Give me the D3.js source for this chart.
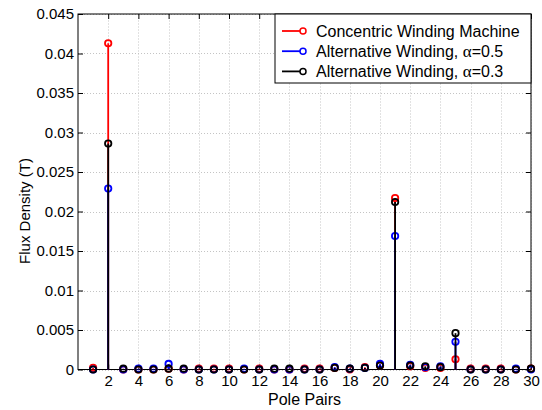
<!DOCTYPE html>
<html>
<head>
<meta charset="utf-8">
<script src="https://cdn.jsdelivr.net/npm/d3@7"></script>
<style>
  html, body { margin: 0; padding: 0; background: #fff; }
  svg { display: block; font-family: "Liberation Sans", Arial, sans-serif; }
</style>
</head>
<body>
<svg id="chart" width="542" height="410"></svg>
<script>
// Harmonic order (pole pairs)
const polePairs = d3.range(1, 31);

// Flux density harmonics (T)
const concentric = [
  0.0002, 0.0413, 0, 0, 0, 0.0001, 0, 0.0001, 0.0001, 0.0001,
  0, 0.0001, 0, 0, 0.0001, 0.0001, 0.0002, 0, 0.0003, 0.0005,
  0.0217, 0.0004, 0.0002, 0.0002, 0.0013, 0.0001, 0.0001, 0.0001, 0, 0.0001
];
const altHalf = [
  0, 0.0229, 0, 0.0001, 0.0001, 0.0007, 0, 0, 0, 0,
  0.0001, 0, 0, 0, 0, 0, 0.0003, 0.0001, 0.0002, 0.0007,
  0.0169, 0.0006, 0.0003, 0.0004, 0.0035, 0, 0, 0, 0.0001, 0
];
const altThird = [
  0, 0.0286, 0.0001, 0, 0, 0.0001, 0.0001, 0, 0, 0,
  0, 0, 0.0001, 0.0001, 0, 0, 0.0002, 0.0001, 0.0002, 0.0005,
  0.0212, 0.0005, 0.0004, 0.0003, 0.0046, 0, 0, 0, 0, 0.0001
];

const seriesNames = ["Concentric Winding Machine", "Alternative Winding, ", "Alternative Winding, "];
const alphaLabels = [null, "=0.5", "=0.3"];
const seriesColors = ["#ff0000", "#0000ff", "#000000"];

const xTicks = d3.range(2, 31, 2);
const yTicks = d3.range(0, 0.0451, 0.005);

const svg = d3.select("#chart");
const margin = { left: 78, right: 11, top: 14, bottom: 40.5 };
const W = 542, H = 410;
const x = d3.scaleLinear().domain([0, 30]).range([margin.left, W - margin.right]);
const y = d3.scaleLinear().domain([0, 0.045]).range([H - margin.bottom, margin.top]);

// dotted grid
const grid = svg.append("g").attr("stroke", "#c4c4c4").attr("stroke-width", 1).attr("stroke-dasharray", "1,2");
grid.selectAll("line.vx").data(xTicks).join("line")
  .attr("x1", d => Math.round(x(d)) + 0.5).attr("x2", d => Math.round(x(d)) + 0.5)
  .attr("y1", y(0)).attr("y2", y(0.045));
grid.selectAll("line.hy").data(yTicks).join("line")
  .attr("y1", d => Math.round(y(d)) + 0.5).attr("y2", d => Math.round(y(d)) + 0.5)
  .attr("x1", x(0)).attr("x2", x(30));

// axes (ticks pointing inward, mirrored on top and right)
const tickFont = g => g.selectAll("text").attr("font-size", 15).attr("fill", "#000")
  .attr("font-family", "Liberation Sans, Arial, sans-serif");
const axStyle = g => { g.select(".domain").remove(); g.selectAll("line").attr("stroke", "#000"); };

svg.append("g").attr("transform", `translate(0,${y(0)})`)
  .call(d3.axisBottom(x).tickValues(xTicks).tickSize(-5).tickPadding(6).tickFormat(d3.format("d")))
  .call(axStyle).call(tickFont);
svg.append("g").attr("transform", `translate(0,${y(0.045)})`)
  .call(d3.axisTop(x).tickValues(xTicks).tickSize(-5).tickFormat(""))
  .call(axStyle);
svg.append("g").attr("transform", `translate(${x(0)},0)`)
  .call(d3.axisLeft(y).tickValues(yTicks).tickSize(-5).tickPadding(4).tickFormat(d => d === 0 ? "0" : d3.format("")(+d.toFixed(3))))
  .call(axStyle).call(tickFont);
svg.append("g").attr("transform", `translate(${x(30)},0)`)
  .call(d3.axisRight(y).tickValues(yTicks).tickSize(-5).tickFormat(""))
  .call(axStyle);

// frame
svg.append("rect").attr("x", x(0)).attr("y", y(0.045))
  .attr("width", x(30) - x(0)).attr("height", y(0) - y(0.045))
  .attr("fill", "none").attr("stroke", "#000").attr("stroke-width", 1);

// stems
const allSeries = [concentric, altHalf, altThird];
allSeries.forEach((vals, i) => {
  const g = svg.append("g");
  const pts = polePairs.map((p, j) => ({ p, v: vals[j] }));
  g.selectAll("line").data(pts).join("line")
    .attr("x1", d => x(d.p)).attr("x2", d => x(d.p))
    .attr("y1", y(0)).attr("y2", d => y(d.v))
    .attr("stroke", seriesColors[i]).attr("stroke-width", 1.8);
  g.selectAll("circle").data(pts).join("circle")
    .attr("cx", d => x(d.p)).attr("cy", d => y(d.v)).attr("r", 3.2)
    .attr("fill", "none").attr("stroke", seriesColors[i]).attr("stroke-width", 1.8);
});

// axis titles
svg.append("text").attr("x", (x(0) + x(30)) / 2).attr("y", 405)
  .attr("text-anchor", "middle").attr("font-size", 16).text("Pole Pairs");
svg.append("text").attr("transform", "translate(30,211) rotate(-90)")
  .attr("text-anchor", "middle").attr("font-size", 15).text("Flux Density (T)");

// legend
const lg = svg.append("g");
const lgX = 275, lgY = 14, lgW = x(30) - 275, lgH = 69;
lg.append("rect").attr("x", lgX).attr("y", lgY).attr("width", lgW).attr("height", lgH)
  .attr("fill", "#fff").attr("stroke", "#000").attr("stroke-width", 1);
seriesNames.forEach((name, i) => {
  const cy = 31 + i * 20.2;
  lg.append("line").attr("x1", 282).attr("x2", 303).attr("y1", cy).attr("y2", cy)
    .attr("stroke", seriesColors[i]).attr("stroke-width", 1.8);
  lg.append("circle").attr("cx", 303).attr("cy", cy).attr("r", 3)
    .attr("fill", "#fff").attr("stroke", seriesColors[i]).attr("stroke-width", 1.5);
  const t = lg.append("text").attr("x", 316).attr("y", cy + 5.5).attr("font-size", 16).text(name);
  if (alphaLabels[i]) {
    t.append("tspan").attr("font-family", "Liberation Serif, serif").attr("font-size", 17).text("α");
    t.append("tspan").text(alphaLabels[i]);
  }
});
</script>
</body>
</html>
